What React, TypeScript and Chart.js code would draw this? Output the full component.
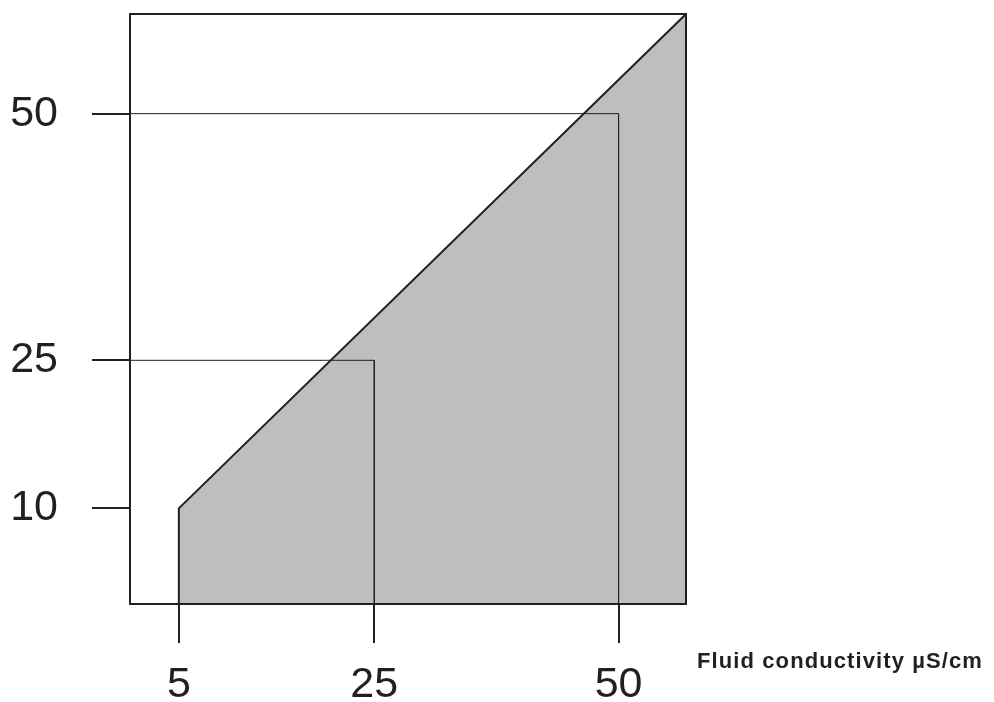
import { useEffect, useRef } from 'react';
import { Chart, registerables } from 'chart.js';

Chart.register(...registerables);

const INK = '#231f20';
const FILL = '#bcbec0';

const xTickValues = [5, 25, 50];
const yTickValues = [10, 25, 50];
const xRange = [0, 56.9];
const yRange = [0.3, 60.1];

const boundaryX = [5, 5, 56.9];
const boundaryY = [0, 10, 60.1];
const guide25X = [0, 25, 25];
const guide25Y = [25, 25, 0];
const guide50X = [0, 50, 50];
const guide50Y = [50, 50, 0];
const axisTitle = 'Fluid conductivity µS/cm';

const pts = (xs: number[], ys: number[]) => xs.map((x, i) => ({ x, y: ys[i] }));

const framePlugin = {
  id: 'frame',
  afterDatasetsDraw(chart: any) {
    const { ctx, chartArea: a } = chart;
    ctx.save();
    ctx.strokeStyle = INK;
    ctx.lineWidth = 2;
    ctx.strokeRect(a.left, a.top, a.right - a.left, a.bottom - a.top);
    ctx.font = 'bold 22px "Liberation Sans", Arial, sans-serif';
    ctx.fillStyle = INK;
    ctx.textBaseline = 'alphabetic';
    ctx.textAlign = 'left';
    (ctx as any).letterSpacing = '1.1px';
    ctx.fillText(axisTitle, a.right + 11, a.bottom + 64);
    ctx.restore();
  },
};

export default function App() {
  const ref = useRef<HTMLCanvasElement>(null);
  useEffect(() => {
    if (!ref.current) return;
    const tickFont = { family: '"Liberation Sans", Arial, sans-serif', size: 43 };
    const chart = new Chart(ref.current, {
      type: 'scatter',
      data: {
        datasets: [
          {
            data: pts(boundaryX, boundaryY),
            showLine: true,
            borderColor: INK,
            borderWidth: 2,
            backgroundColor: FILL,
            fill: 'origin',
            pointRadius: 0,
            clip: 0,
            order: 2,
          } as any,
          {
            data: pts(guide25X, guide25Y),
            showLine: true,
            borderColor: INK,
            borderWidth: 1,
            fill: false,
            pointRadius: 0,
            clip: 0,
            order: 1,
          },
          {
            data: pts(guide50X, guide50Y),
            showLine: true,
            borderColor: INK,
            borderWidth: 1,
            fill: false,
            pointRadius: 0,
            clip: 0,
            order: 1,
          },
        ],
      },
      options: {
        animation: false,
        responsive: false,
        layout: { padding: { left: 0, top: 14, right: 308, bottom: 0 } },
        plugins: { legend: { display: false }, tooltip: { enabled: false } },
        scales: {
          x: {
            type: 'linear',
            min: xRange[0],
            max: xRange[1],
            afterBuildTicks: (s: any) => {
              s.ticks = xTickValues.map((v) => ({ value: v }));
            },
            afterFit: (s: any) => {
              s.height = 98;
              s.paddingLeft = 0;
              s.paddingRight = 0;
            },
            grid: {
              drawOnChartArea: false,
              drawTicks: true,
              tickLength: 39,
              tickWidth: 2,
              lineWidth: 2,
              tickColor: INK,
              color: INK,
            },
            border: { display: false },
            ticks: {
              color: INK,
              font: tickFont,
              padding: 16,
              maxRotation: 0,
              autoSkip: false,
              callback: (v: any) => String(v),
            },
          },
          y: {
            type: 'linear',
            min: yRange[0],
            max: yRange[1],
            afterBuildTicks: (s: any) => {
              s.ticks = yTickValues.map((v) => ({ value: v }));
            },
            afterFit: (s: any) => {
              s.width = 130;
              s.paddingTop = 0;
              s.paddingBottom = 0;
            },
            grid: {
              drawOnChartArea: false,
              drawTicks: true,
              tickLength: 38,
              tickWidth: 2,
              lineWidth: 2,
              tickColor: INK,
              color: INK,
            },
            border: { display: false },
            ticks: {
              color: INK,
              font: tickFont,
              padding: 34,
              autoSkip: false,
              callback: (v: any) => String(v),
            },
          },
        },
      },
      plugins: [framePlugin],
    });
    return () => chart.destroy();
  }, []);
  return (
    <div style={{ position: 'absolute', left: 0, top: 0, width: 994, height: 702 }}>
      <canvas ref={ref} width={994} height={702} style={{ display: 'block', width: 994, height: 702 }} />
    </div>
  );
}
